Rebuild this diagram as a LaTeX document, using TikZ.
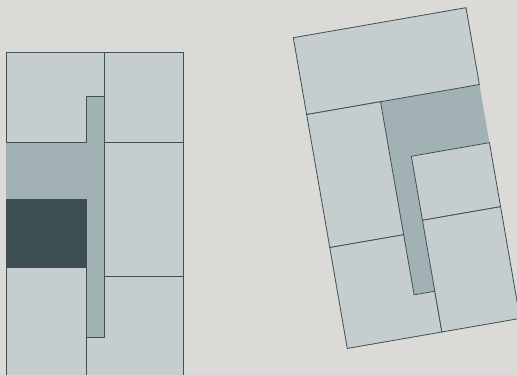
\documentclass[tikz,border=0pt]{standalone}
\usepackage{tikz}
\usetikzlibrary{calc}

\definecolor{paper}{RGB}{219,218,214}
\definecolor{roomlight}{RGB}{197,205,207}
\definecolor{roommid}{RGB}{162,177,180}
\definecolor{roomdark}{RGB}{61,78,82}
\definecolor{wall}{RGB}{62,80,84}

\begin{document}
\begin{tikzpicture}[x=1pt,y=-1pt,
    room/.style={fill=roomlight,draw=wall,line width=0.8pt,line join=miter},
    hall/.style={fill=roommid},
    darkroom/.style={fill=roomdark,draw=roomdark,line width=0.8pt}]
  \useasboundingbox (0,0) rectangle (517,375);
  \clip (0,0) rectangle (517,375);
  \fill[paper] (0,0) rectangle (517,375);

  % left plan
  \fill[hall] (6,142) -- (86.7,142) -- (86.7,96) -- (104,96) -- (104,337)
    -- (86.7,337) -- (86.7,199) -- (6,199) -- cycle;
  \draw[room] (6,52) -- (104,52) -- (104,96) -- (86.7,96) -- (86.7,142) -- (6,142) -- cycle;
  \draw[room] (104,52) rectangle (183,142);
  \draw[room] (104,142) rectangle (183,276);
  \draw[darkroom] (6,199) rectangle (86.7,267);
  \draw[room] (6,267) -- (86.7,267) -- (86.7,385) -- (6,385) -- cycle;
  \draw[room] (104,276) -- (183,276) -- (183,385) -- (86.7,385) -- (86.7,337)
    -- (104,337) -- cycle;

  % right plan, turned
  \begin{scope}[shift={(293.3,37.7)},rotate=9.86]
    \def\W{175.3}
    \def\H{315.4}
    \fill[hall] (75,78) -- (\W,78) -- (\W,137) -- (96,137) -- (96,274) -- (75,274) -- cycle;
    \draw[room] (0,0) rectangle (\W,78);
    \draw[room] (0,78) -- (75,78) -- (75,213) -- (0,213) -- cycle;
    \draw[room] (96,137) rectangle (\W,202);
    \draw[room] (0,213) -- (75,213) -- (75,274) -- (96,274) -- (96,\H) -- (0,\H) -- cycle;
    \draw[room] (96,202) rectangle (\W,\H);
  \end{scope}
\end{tikzpicture}
\end{document}
